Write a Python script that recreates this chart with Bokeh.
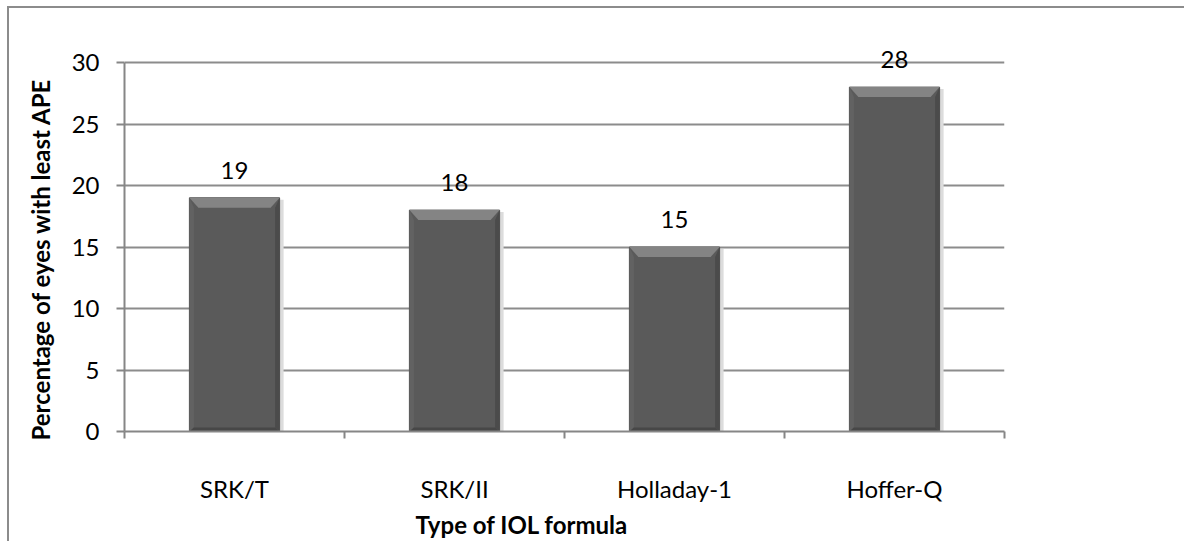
from bokeh.plotting import figure
from bokeh.models import Range1d, FixedTicker, Title, ColumnDataSource, LabelSet
from bokeh.core.properties import value
from bokeh.embed import file_html
from bokeh.resources import INLINE

# ---- data ----
categories = ["SRK/T", "SRK/II", "Holladay-1", "Hoffer-Q"]
values = [19, 18, 15, 28]
y_ticks = [0, 5, 10, 15, 20, 25, 30]
y_max = 30
y_label = "Percentage of eyes with least APE"
x_label = "Type of IOL formula"

FONT = "Lato"
W, H = 1177, 535
FL, FR, FB = 115, 182, 112
AXIS_TOP = 54          # pixel row of the 30 gridline inside the figure
FT = 23                # extra headroom so that value labels are not clipped
px_per_unit = (H - AXIS_TOP - FB) / y_max
y_top = y_max + (AXIS_TOP - FT) / px_per_unit
frame_w = W - FL - FR

p = figure(width=W, height=H, output_backend="svg", toolbar_location=None,
           x_range=Range1d(0, len(categories)), y_range=Range1d(0, y_top),
           min_border_left=FL, min_border_right=FR, min_border_top=FT, min_border_bottom=FB)
p.outline_line_color = None
p.background_fill_color = "white"
p.border_fill_color = "white"
p.styles = {"border-left": "2px solid #8c8c8c", "border-top": "2px solid #8c8c8c",
            "margin-left": "7px", "margin-top": "6px"}

# pixel -> data conversions for styling widths
px_x = len(categories) / frame_w
px_y = 1 / px_per_unit

centers = [i + 0.5 for i in range(len(categories))]
bw = 0.41
lefts = [c - bw / 2 for c in centers]
rights = [c + bw / 2 for c in centers]
zeros = [0] * len(values)

# shadow
p.quad(left=rights, right=[r + 4 * px_x for r in rights], bottom=zeros,
       top=[v - 2 * px_y for v in values], fill_color="#dcdcdc", line_color=None)
# main bar
p.quad(left=lefts, right=rights, bottom=zeros, top=values,
       fill_color="#5a5a5a", line_color="#505050", line_width=1)

# bevels
dx = 9 * px_x
dy = 10 * px_y
top_xs, top_ys, l_xs, l_ys, r_xs, r_ys, b_xs, b_ys = [], [], [], [], [], [], [], []
for l, r, v in zip(lefts, rights, values):
    top_xs.append([l, r, r - dx, l + dx]); top_ys.append([v, v, v - dy, v - dy])
    l_xs.append([l, l + dx * 0.5, l + dx * 0.5, l]); l_ys.append([v, v - dy, dy * 0.4, 0])
    r_xs.append([r, r - dx * 0.5, r - dx * 0.5, r]); r_ys.append([v, v - dy, dy * 0.4, 0])
    b_xs.append([l, r, r - dx * 0.5, l + dx * 0.5]); b_ys.append([0, 0, dy * 0.4, dy * 0.4])
p.patches(l_xs, l_ys, fill_color="#626262", line_color=None)
p.patches(r_xs, r_ys, fill_color="#4b4b4b", line_color=None)
p.patches(b_xs, b_ys, fill_color="#474747", line_color=None)
p.patches(top_xs, top_ys, fill_color="#848484", line_color=None)

# value labels
src = ColumnDataSource(dict(x=centers, y=values, t=[str(v) for v in values]))
labels = LabelSet(x="x", y="y", text="t", source=src, text_align="center",
                  text_baseline="alphabetic", y_offset=19,
                  text_font=value(FONT), text_font_size=value("24px"), text_color="black")
p.add_layout(labels)

# y axis
p.yaxis.bounds = (0, y_max)
p.yaxis.ticker = FixedTicker(ticks=y_ticks)
p.yaxis.axis_line_color = "#868686"
p.yaxis.axis_line_width = 2
p.yaxis.major_tick_line_color = "#868686"
p.yaxis.major_tick_line_width = 2
p.yaxis.major_tick_out = 8
p.yaxis.major_tick_in = 0
p.yaxis.minor_tick_line_color = None
p.yaxis.major_label_standoff = 17
p.yaxis.major_label_text_font = FONT
p.yaxis.major_label_text_font_size = "24px"
p.yaxis.major_label_text_color = "black"

p.add_layout(Title(text=y_label, align="left", offset=-9, text_font=FONT,
                   text_font_size="24px", text_font_style="bold", text_color="black",
                   standoff=28), "left")

# x axis
p.xaxis.ticker = FixedTicker(ticks=centers, minor_ticks=list(range(len(categories) + 1)))
p.xaxis.major_label_overrides = {c: name for c, name in zip(centers, categories)}
p.xaxis.axis_line_color = "#868686"
p.xaxis.axis_line_width = 2
p.xaxis.major_tick_line_color = None
p.xaxis.major_tick_out = 0
p.xaxis.major_tick_in = 0
p.xaxis.minor_tick_line_color = "#868686"
p.xaxis.minor_tick_line_width = 2
p.xaxis.minor_tick_out = 7
p.xaxis.minor_tick_in = 0
p.xaxis.major_label_standoff = 35
p.xaxis.major_label_text_font = FONT
p.xaxis.major_label_text_font_size = "24px"
p.xaxis.major_label_text_color = "black"

p.add_layout(Title(text=x_label, align="left", offset=291, text_font=FONT,
                   text_font_size="24px", text_font_style="bold", text_color="black",
                   standoff=4), "below")

# grid
p.xgrid.grid_line_color = None
p.ygrid.ticker = FixedTicker(ticks=y_ticks)
p.ygrid.grid_line_color = "#8c8c8c"
p.ygrid.grid_line_width = 2

open("out.html", "w").write(file_html(p, INLINE))
